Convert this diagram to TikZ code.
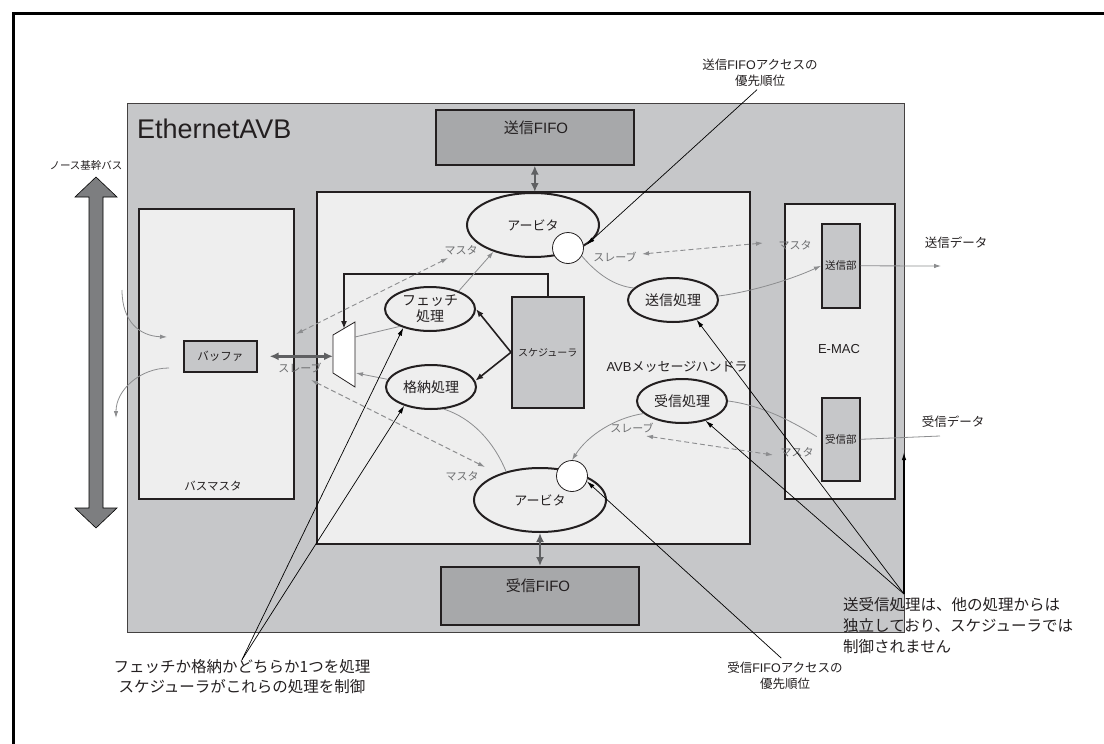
\documentclass[tikz,border=0pt]{standalone}
\usepackage{fontspec}
\setmainfont{Noto Sans CJK JP}
\newfontfamily\arial{Liberation Sans}
\usetikzlibrary{arrows.meta,shapes.geometric,positioning}

\definecolor{ink}{HTML}{231F20}
\definecolor{avbgray}{HTML}{C6C7C9}
\definecolor{panelgray}{HTML}{EEEEEE}
\definecolor{fifogray}{HTML}{A7A8AA}
\definecolor{busgray}{HTML}{7D7E80}
\definecolor{wiregray}{HTML}{8C8D8F}
\definecolor{labelgray}{HTML}{6D6E70}
\definecolor{fatgray}{HTML}{5F6062}

\tikzset{
  box/.style={draw=ink, line width=1.6pt, inner sep=0pt, anchor=north west, text=ink},
  proc/.style={ellipse, draw=ink, line width=2pt, fill=panelgray, inner sep=0pt,
    minimum width=90pt, minimum height=44pt, text=ink,
    font=\fontsize{14}{16}\selectfont},
  arb/.style={proc, minimum width=132pt, minimum height=64pt,
    font=\fontsize{13}{15}\selectfont},
  port/.style={circle, draw=ink, line width=0.8pt, fill=white,
    minimum size=31pt, inner sep=0pt},
  lbl/.style={inner sep=0pt, text=ink, font=\fontsize{11}{13}\selectfont},
  glbl/.style={lbl, text=labelgray},
  note/.style={inner sep=0pt, align=center, text=ink,
    font=\fontsize{12.5}{16}\selectfont},
  flow/.style={wiregray, line width=0.8pt, -{Latex[length=7pt,width=4.5pt]}},
  flowline/.style={wiregray, line width=0.8pt},
  buslink/.style={wiregray, line width=0.9pt, dash pattern=on 5pt off 3pt,
    {Latex[length=7pt,width=4.5pt]}-{Latex[length=7pt,width=4.5pt]}},
  fatdbl/.style={fatgray, line width=2.5pt,
    {Latex[length=9pt,width=8pt]}-{Latex[length=9pt,width=8pt]}},
  ctrl/.style={ink, line width=1.6pt, -{Latex[length=8pt,width=6pt]}},
  callout/.style={black, line width=0.7pt, -{Latex[length=8pt,width=4.5pt]}},
}

\begin{document}
\begin{tikzpicture}[x=1pt,y=-1pt]
\useasboundingbox (0,0) rectangle (1104,744);

% page frame
\draw[black, line width=3pt] (13,744) |- (1104,13);

% blocks
\node[box, draw=ink!85, line width=1.4pt, fill=avbgray,
  minimum width=777pt, minimum height=529pt] (avb) at (127,103) {};
\node[anchor=west, inner sep=0pt, text=ink,
  font=\arial\fontsize{27}{30}\selectfont] (avbTitle) at (137,129) {EthernetAVB};

\node[box, fill=panelgray, minimum width=155pt, minimum height=290pt] (busm) at (138,208) {};
\node[box, fill=avbgray, minimum width=73pt, minimum height=31pt,
  font=\fontsize{11.5}{13}\selectfont] (buf) at (183,340) {バッファ};
\node[lbl, font=\fontsize{11.5}{13}\selectfont] (busmLbl) at (213,486) {バスマスタ};

\node[box, fill=panelgray, minimum width=433pt, minimum height=352pt] (msgh) at (316,191) {};
\node[box, fill=fifogray, minimum width=198pt, minimum height=55pt] (txfifo) at (435,109) {};
\node[box, fill=fifogray, minimum width=198pt, minimum height=58pt] (rxfifo) at (440,566) {};
\node[lbl, font=\fontsize{15}{17}\selectfont] (txfifoLbl) at (536,128) {送信{\arial FIFO}};
\node[lbl, font=\fontsize{15}{17}\selectfont] (rxfifoLbl) at (538,586) {受信{\arial FIFO}};

\node[box, fill=avbgray, minimum width=72pt, minimum height=111pt] (sched) at (511,296) {スケジューラ};

\node[box, fill=panelgray, minimum width=110pt, minimum height=295pt] (emac) at (784,203) {};
\node[box, fill=avbgray, minimum width=38pt, minimum height=84pt,
  font=\fontsize{10.5}{12}\selectfont] (txu) at (821,223) {送信部};
\node[box, fill=avbgray, minimum width=38pt, minimum height=83pt,
  font=\fontsize{10.5}{12}\selectfont] (rxu) at (821,397) {受信部};
\node[lbl, font=\arial\fontsize{13}{15}\selectfont] (emacLbl) at (839,349) {E-MAC};

% bus arrow
\draw[black, line width=0.6pt, fill=busgray]
  (96,177) -- (117,197) -- (103,197) -- (103,508) -- (117,508) -- (96,528)
  -- (75,508) -- (89,508) -- (89,197) -- (75,197) -- cycle;
\node[lbl, font=\fontsize{10.5}{12}\selectfont] (busLbl) at (86,166) {ノース基幹バス};

% processes
\node[arb] (txarb) at (533,225) {アービタ};
\node[arb] (rxarb) at (540,500) {アービタ};
\node[port] (txport) at (568,248) {};
\node[port] (rxport) at (572,476) {};
\node[proc, align=center] (fetch) at (430,309) {フェッチ\\処理};
\node[proc] (store) at (431,387) {格納処理};
\node[proc] (txproc) at (673,300) {送信処理};
\node[proc] (rxproc) at (682,401) {受信処理};

% mux
\draw[ink, line width=0.8pt, fill=white] (333,335) -- (355,322) -- (355,387) -- (333,373) -- cycle;
\coordinate (muxW) at (333,354);
\coordinate (muxN) at (344,329);
\coordinate (muxE1) at (355,337);
\coordinate (muxE2) at (356,373);

% fat links
\draw[fatdbl] (txfifo.south) -- (txfifo.south |- txarb.north);
\draw[fatdbl] (rxarb.south) -- (rxarb.south |- rxfifo.north);
\draw[fatdbl, shorten <=12pt] (buf.east) -- (buf.east -| muxW);

% scheduler control
\draw[ctrl] (sched.north) -- ++(0,-22) -| (muxN);
\draw[ctrl] (sched.west) -- (fetch.east);
\draw[ctrl] (sched.west) -- (store.8);

% data paths
\coordinate (busIn) at (122,290);
\coordinate (busInEnd) at (167,337);
\coordinate (busOut) at (169,368);
\coordinate (busOutEnd) at (116,418);
\draw[flow] (busIn) .. controls (122,322) and (140,336) .. (busInEnd);
\draw[flow] (busOut) .. controls (140,368) and (116,390) .. (busOutEnd);

\draw[flowline] (fetch.210) -- (muxE1);
\draw[flow] (store.170) -- (muxE2);
\draw[flow] (fetch.32) -- (txarb.214);
\draw[flowline] (store.-60) .. controls (472,418) and (494,442) .. (rxarb.140);
\draw[flowline] (txport.-30) .. controls (598,275) and (615,286) .. (txproc.163);
\draw[flow] (txproc.5) .. controls (750,292) and (790,280) .. (txu.west);
\draw[flowline, shorten <=5pt] (rxu.west) .. controls (790,420) and (760,405) .. (rxproc.east);
\draw[flow] (rxproc.198) .. controls (615,418) and (588,435) .. (rxport.north);

\coordinate (txOut) at (941,266);
\coordinate (rxIn) at (940,436);
\draw[flow] (txu.east) -- (txOut);
\draw[flowline] (rxIn) -- (rxu.east);
\node[lbl, font=\fontsize{12.5}{14}\selectfont] (txData) at (956,243) {送信データ};
\node[lbl, font=\fontsize{12.5}{14}\selectfont] (rxData) at (953,422) {受信データ};

% master / slave links
\coordinate (dA1) at (296,334);
\coordinate (dA2) at (448,258);
\coordinate (dB1) at (311,380);
\coordinate (dB2) at (485,467);
\coordinate (dC1) at (642,254);
\coordinate (dC2) at (763,243);
\coordinate (dD1) at (646,436);
\coordinate (dD2) at (773,455);
\draw[buslink] (dA1) -- (dA2);
\draw[buslink] (dB1) -- (dB2);
\draw[buslink] (dC1) -- (dC2);
\draw[buslink] (dD1) -- (dD2);

\node[glbl] (slvL) at (300,368) {スレーブ};
\node[glbl] (mstL1) at (461,250) {マスタ};
\node[glbl] (mstL2) at (462,476) {マスタ};
\node[glbl] (slvT) at (615,257) {スレーブ};
\node[glbl] (mstT) at (795,245) {マスタ};
\node[glbl] (slvB) at (632,428) {スレーブ};
\node[glbl] (mstB) at (797,452) {マスタ};

\node[lbl, font=\fontsize{13}{15}\selectfont] (msghLbl) at (677,367) {{\arial AVB}メッセージハンドラ};

% notes
\node[note] (prioT) at (760,73) {送信{\arial FIFO}アクセスの\\優先順位};
\node[note] (prioB) at (785,675.5) {受信{\arial FIFO}アクセスの\\優先順位};
\node[note, font=\fontsize{15.5}{20}\selectfont] (ctrlNote) at (242,677)
  {フェッチか格納かどちらか1つを処理\\スケジューラがこれらの処理を制御};
\node[note, align=left, anchor=north west, font=\fontsize{15.5}{21}\selectfont] (indepNote) at (843,597)
  {送受信処理は、他の処理からは\\独立しており、スケジューラでは\\制御されません};

\draw[callout, shorten <=4pt] (prioT.south) -- (txarb.-20);
\draw[callout, shorten <=5pt] (prioB.north) -- (rxport.-20);
\draw[callout] (ctrlNote.north) -- (fetch.215);
\draw[callout] (ctrlNote.north) -- (store.215);

\coordinate (indep) at (904,594);
\coordinate (indepUp) at (904,452);
\draw[callout] (indep) -- (txproc.-40);
\draw[callout] (indep) -- (rxproc.-40);
\draw[callout, line width=1.2pt] (indep) -- (indepUp);

\end{tikzpicture}
\end{document}
